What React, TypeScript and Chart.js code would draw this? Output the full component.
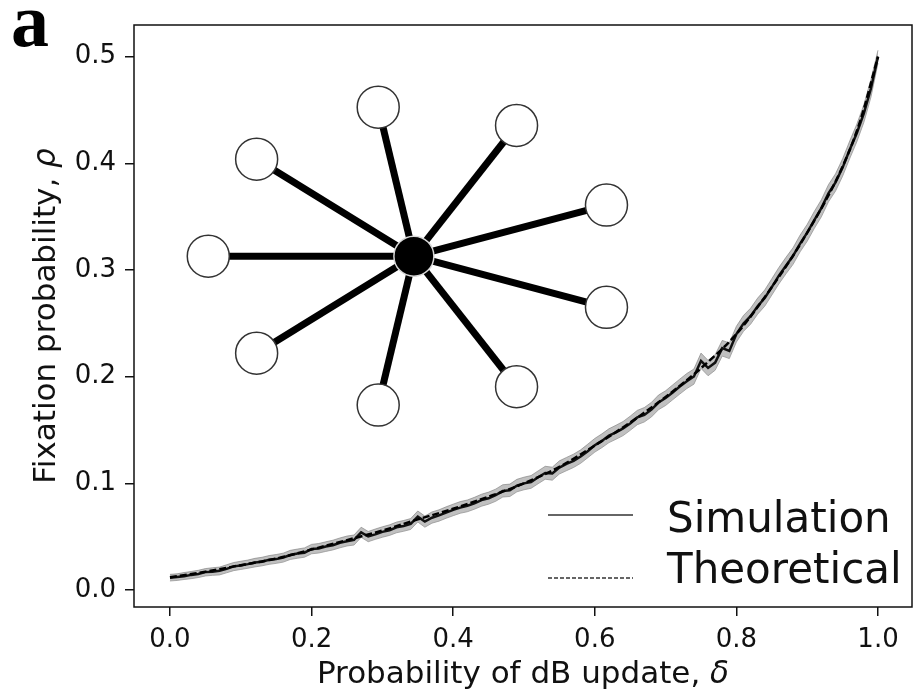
import React, { useEffect, useRef } from 'react';
import { Chart, registerables } from 'chart.js';

Chart.register(...registerables);

// ---- Texts and ticks ----
const xTicks = [0, 0.2, 0.4, 0.6, 0.8, 1.0];
const yTicks = [0, 0.1, 0.2, 0.3, 0.4, 0.5];
const xLabelText = 'Probability of dB update, ';
const xLabelSymbol = 'δ';
const yLabelText = 'Fixation probability, ';
const yLabelSymbol = 'ρ';
const legendLabels = ['Simulation', 'Theoretical'];
const panelLetter = 'a';

// ---- Simulation series (delta grid 0.00 .. 1.00 step 0.01) ----
const simDelta = Array.from({ length: 101 }, (_, i) => i / 100);
const simRho = [
  0.0115, 0.0122, 0.0130, 0.0142, 0.0150, 0.0168, 0.0172, 0.0180, 0.0198, 0.0222,
  0.0230, 0.0243, 0.0258, 0.0265, 0.0283, 0.0290, 0.0305, 0.0328, 0.0342, 0.0350,
  0.0385, 0.0390, 0.0408, 0.0420, 0.0443, 0.0458, 0.0470, 0.0540, 0.0502, 0.0522,
  0.0545, 0.0560, 0.0588, 0.0600, 0.0620, 0.0688, 0.0642, 0.0678, 0.0700, 0.0725,
  0.0752, 0.0773, 0.0790, 0.0812, 0.0843, 0.0860, 0.0890, 0.0928, 0.0936, 0.0978,
  0.1000, 0.1012, 0.1058, 0.1098, 0.1092, 0.1148, 0.1182, 0.1210, 0.1252, 0.1302,
  0.1358, 0.1398, 0.1448, 0.1478, 0.1515, 0.1562, 0.1618, 0.1642, 0.1692, 0.1758,
  0.1800, 0.1852, 0.1908, 0.1958, 0.2002, 0.2148, 0.2082, 0.2132, 0.2268, 0.2242,
  0.2400, 0.2498, 0.2568, 0.2660, 0.2738, 0.2840, 0.2948, 0.3040, 0.3132, 0.3248,
  0.3350, 0.3468, 0.3580, 0.3718, 0.3822, 0.3960, 0.4128, 0.4282, 0.4468, 0.4702,
  0.5000,
];
// grey confidence band: lower and upper offsets from the simulated mean
const simErrLow = [
  0.0030, 0.0032, 0.0031, 0.0035, 0.0033, 0.0036, 0.0034, 0.0038, 0.0036, 0.0040,
  0.0037, 0.0039, 0.0041, 0.0038, 0.0042, 0.0040, 0.0043, 0.0041, 0.0044, 0.0042,
  0.0045, 0.0043, 0.0046, 0.0044, 0.0047, 0.0045, 0.0048, 0.0046, 0.0049, 0.0047,
  0.0050, 0.0048, 0.0051, 0.0049, 0.0052, 0.0050, 0.0053, 0.0051, 0.0054, 0.0052,
  0.0055, 0.0053, 0.0056, 0.0054, 0.0057, 0.0055, 0.0058, 0.0056, 0.0059, 0.0057,
  0.0060, 0.0058, 0.0061, 0.0059, 0.0062, 0.0060, 0.0063, 0.0061, 0.0064, 0.0062,
  0.0065, 0.0063, 0.0066, 0.0064, 0.0067, 0.0065, 0.0068, 0.0066, 0.0069, 0.0067,
  0.0070, 0.0068, 0.0071, 0.0069, 0.0072, 0.0070, 0.0073, 0.0071, 0.0074, 0.0072,
  0.0075, 0.0073, 0.0076, 0.0074, 0.0077, 0.0075, 0.0078, 0.0076, 0.0079, 0.0077,
  0.0080, 0.0078, 0.0081, 0.0079, 0.0082, 0.0080, 0.0083, 0.0081, 0.0084, 0.0082,
  0.0060,
];
const simErrHigh = [
  0.0032, 0.0030, 0.0034, 0.0032, 0.0035, 0.0033, 0.0037, 0.0035, 0.0039, 0.0036,
  0.0040, 0.0038, 0.0039, 0.0042, 0.0040, 0.0043, 0.0041, 0.0044, 0.0042, 0.0045,
  0.0043, 0.0046, 0.0044, 0.0047, 0.0045, 0.0048, 0.0046, 0.0049, 0.0047, 0.0050,
  0.0048, 0.0051, 0.0049, 0.0052, 0.0050, 0.0053, 0.0051, 0.0054, 0.0052, 0.0055,
  0.0053, 0.0056, 0.0054, 0.0057, 0.0055, 0.0058, 0.0056, 0.0059, 0.0057, 0.0060,
  0.0058, 0.0061, 0.0059, 0.0062, 0.0060, 0.0063, 0.0061, 0.0064, 0.0062, 0.0065,
  0.0063, 0.0066, 0.0064, 0.0067, 0.0065, 0.0068, 0.0066, 0.0069, 0.0067, 0.0070,
  0.0068, 0.0071, 0.0069, 0.0072, 0.0070, 0.0073, 0.0071, 0.0074, 0.0072, 0.0075,
  0.0073, 0.0076, 0.0074, 0.0077, 0.0075, 0.0078, 0.0076, 0.0079, 0.0077, 0.0080,
  0.0078, 0.0081, 0.0079, 0.0082, 0.0080, 0.0083, 0.0081, 0.0084, 0.0082, 0.0085,
  0.0060,
];

// ---- Theoretical series ----
const theoryDelta = [0, 0.05, 0.1, 0.15, 0.2, 0.25, 0.3, 0.35, 0.4, 0.45, 0.5, 0.55, 0.6, 0.65, 0.7, 0.75, 0.8, 0.85, 0.9, 0.95, 0.975, 1.0];
const theoryRho = [0.012, 0.0172, 0.0233, 0.0295, 0.038, 0.0468, 0.0558, 0.0662, 0.0762, 0.0875, 0.1, 0.1155, 0.1355, 0.157, 0.181, 0.208, 0.24, 0.284, 0.335, 0.397, 0.44, 0.5];

// ---- Inset star graph (in data coordinates) ----
const hubX = [0.3445];
const hubY = [0.313];
const leafX = [0.0541, 0.1224, 0.2941, 0.4895, 0.6165, 0.6165, 0.4895, 0.2941, 0.1224];
const leafY = [0.313, 0.4039, 0.4527, 0.4355, 0.3609, 0.265, 0.1906, 0.1734, 0.222];

const FONT = '"DejaVu Sans", sans-serif';

function drawMixed(ctx: CanvasRenderingContext2D, main: string, sym: string, size: number) {
  ctx.font = `${size}px ${FONT}`;
  const w1 = ctx.measureText(main).width;
  ctx.font = `oblique ${size}px ${FONT}`;
  const w2 = ctx.measureText(sym).width;
  const start = -(w1 + w2) / 2;
  ctx.textAlign = 'left';
  ctx.textBaseline = 'alphabetic';
  ctx.font = `${size}px ${FONT}`;
  ctx.fillText(main, start, 0);
  ctx.font = `oblique ${size}px ${FONT}`;
  ctx.fillText(sym, start + w1, 0);
}

const overlayPlugin = {
  id: 'overlay',
  afterDatasetsDraw(chart: any) {
    const { ctx, chartArea: a } = chart;
    ctx.save();
    ctx.strokeStyle = '#111';
    ctx.lineWidth = 1.5;
    ctx.strokeRect(a.left, a.top, a.right - a.left, a.bottom - a.top);
    ctx.restore();
  },
  afterDraw(chart: any) {
    const { ctx, chartArea: a } = chart;
    const xs = chart.scales.x;
    ctx.save();

    // x tick labels
    ctx.fillStyle = '#111';
    ctx.font = `26px ${FONT}`;
    ctx.textAlign = 'center';
    ctx.textBaseline = 'alphabetic';
    xTicks.forEach((v) => {
      ctx.fillText(v.toFixed(1), xs.getPixelForValue(v), a.bottom + 40);
    });

    // legend
    const x0 = a.right - 364;
    const x1 = a.right - 279;
    const tx = a.right - 245;
    const lineYs = [a.bottom - 92, a.bottom - 29];
    const textYs = [a.bottom - 75, a.bottom - 24];
    ctx.strokeStyle = '#333';
    ctx.lineWidth = 1.5;
    ctx.beginPath();
    ctx.setLineDash([]);
    ctx.moveTo(x0, lineYs[0]);
    ctx.lineTo(x1, lineYs[0]);
    ctx.stroke();
    ctx.beginPath();
    ctx.setLineDash([4, 2]);
    ctx.moveTo(x0, lineYs[1]);
    ctx.lineTo(x1, lineYs[1]);
    ctx.stroke();
    ctx.setLineDash([]);
    ctx.fillStyle = '#111';
    ctx.font = `42px ${FONT}`;
    ctx.textAlign = 'left';
    ctx.textBaseline = 'alphabetic';
    ctx.fillText(legendLabels[0], tx, textYs[0]);
    ctx.fillText(legendLabels[1], tx, textYs[1]);

    // axis titles
    const cx = (a.left + a.right) / 2;
    const cy = (a.top + a.bottom) / 2;
    ctx.save();
    ctx.translate(cx, a.bottom + 76);
    drawMixed(ctx, xLabelText, xLabelSymbol, 31);
    ctx.restore();
    ctx.save();
    ctx.translate(a.left - 79, cy);
    ctx.rotate(-Math.PI / 2);
    drawMixed(ctx, yLabelText, yLabelSymbol, 31);
    ctx.restore();

    // panel letter
    ctx.font = 'bold 76px "Liberation Serif", serif';
    ctx.fillStyle = '#000';
    ctx.textAlign = 'left';
    ctx.fillText(panelLetter, 11, 46);
    ctx.restore();
  },
};

export default function App() {
  const ref = useRef<HTMLCanvasElement | null>(null);

  useEffect(() => {
    if (!ref.current) return;
    const edgeSets = leafX.map((lx, i) => ({
      data: [
        { x: hubX[0], y: hubY[0] },
        { x: lx, y: leafY[i] },
      ],
      showLine: true,
      borderColor: '#000',
      borderWidth: 7,
      pointRadius: 0,
      order: 1,
    }));

    const chart = new Chart(ref.current, {
      type: 'scatter',
      data: {
        datasets: [
          {
            data: hubX.map((x, i) => ({ x, y: hubY[i] })),
            pointRadius: 20,
            pointBackgroundColor: '#000',
            pointBorderColor: '#d8d8d8',
            pointBorderWidth: 1.5,
            order: 0,
          },
          {
            data: leafX.map((x, i) => ({ x, y: leafY[i] })),
            pointRadius: 21,
            pointBackgroundColor: '#fff',
            pointBorderColor: '#333',
            pointBorderWidth: 1.5,
            order: 0,
          },
          ...edgeSets,
          {
            data: simDelta.map((x, i) => ({ x, y: simRho[i] - simErrLow[i] })),
            showLine: true,
            borderColor: 'rgba(120,120,120,0.6)',
            borderWidth: 1,
            pointRadius: 0,
            fill: false,
            order: 5,
          },
          {
            data: simDelta.map((x, i) => ({ x, y: simRho[i] + simErrHigh[i] })),
            showLine: true,
            borderColor: 'rgba(120,120,120,0.6)',
            borderWidth: 1,
            backgroundColor: 'rgba(150,150,150,0.6)',
            pointRadius: 0,
            fill: '-1',
            order: 4,
          },
          {
            data: simDelta.map((x, i) => ({ x, y: simRho[i] })),
            showLine: true,
            borderColor: '#111',
            borderWidth: 2.5,
            pointRadius: 0,
            order: 3,
          },
          {
            data: theoryDelta.map((x, i) => ({ x, y: theoryRho[i] })),
            showLine: true,
            borderColor: '#000',
            borderWidth: 2.5,
            borderDash: [7, 3],
            cubicInterpolationMode: 'monotone',
            pointRadius: 0,
            order: 2,
          },
        ] as any,
      },
      options: {
        responsive: false,
        animation: false,
        devicePixelRatio: 1,
        layout: { autoPadding: false, padding: { top: 25, right: 1, left: 0, bottom: 0 } },
        plugins: {
          legend: { display: false },
          tooltip: { enabled: false },
        },
        scales: {
          x: {
            type: 'linear',
            min: -0.0508,
            max: 1.048,
            afterFit: (s: any) => {
              s.height = 86;
              s.paddingLeft = 0;
              s.paddingRight = 0;
            },
            afterBuildTicks: (s: any) => {
              s.ticks = xTicks.map((v) => ({ value: v }));
            },
            grid: {
              display: true,
              drawOnChartArea: false,
              drawTicks: true,
              tickLength: 9,
              color: '#111',
              lineWidth: 1.5,
            },
            border: { display: false },
            ticks: { display: false },
          },
          y: {
            type: 'linear',
            min: -0.0159,
            max: 0.5297,
            afterFit: (s: any) => {
              s.width = 134;
              s.paddingTop = 0;
              s.paddingBottom = 0;
            },
            afterBuildTicks: (s: any) => {
              s.ticks = yTicks.map((v) => ({ value: v }));
            },
            grid: {
              display: true,
              drawOnChartArea: false,
              drawTicks: true,
              tickLength: 9,
              color: '#111',
              lineWidth: 1.5,
            },
            border: { display: false },
            ticks: {
              color: '#111',
              font: { family: FONT, size: 26 },
              padding: 9,
              callback: (v: any) => Number(v).toFixed(1),
            },
          },
        },
      },
      plugins: [overlayPlugin],
    });
    return () => chart.destroy();
  }, []);

  return (
    <div style={{ position: 'fixed', left: 0, top: 0, width: 913, height: 693, background: '#fff' }}>
      <canvas ref={ref} width={913} height={693} style={{ display: 'block' }} />
    </div>
  );
}
